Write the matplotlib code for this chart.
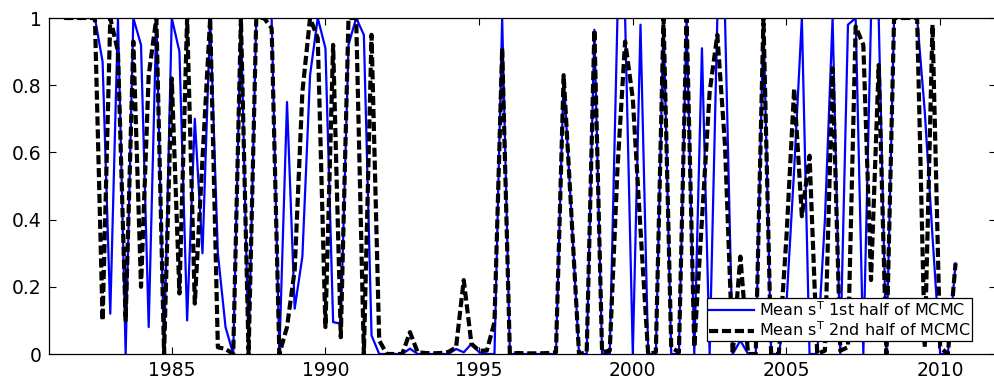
import matplotlib
matplotlib.use("Agg")
import matplotlib.pyplot as plt
import numpy as np

plt.rcParams["font.family"] = ["DejaVu Sans"]
plt.rcParams["mathtext.fontset"] = "dejavusans"

# quarterly sample, 1981Q3 .. 2010Q3
start_year = 1981.5

mean_first = [
    1.00, 1.00, 1.00, 1.00, 1.00, 0.87, 0.12, 1.00, 0.00, 1.00,   # 1981.5 -
    0.92, 0.08, 1.00, 0.00, 1.00, 0.90, 0.10, 0.70, 0.30, 1.00,   # 1984.0 -
    0.30, 0.08, 0.00, 1.00, 0.00, 1.00, 1.00, 1.00, 0.00, 0.75,   # 1986.5 -
    0.135, 0.29, 0.83, 1.00, 0.91, 0.095, 0.09, 0.92, 1.00, 0.95, # 1989.0 -
    0.055, 0.00, 0.00, 0.00, 0.00, 0.016, 0.00, 0.00, 0.00, 0.00, # 1991.5 -
    0.00, 0.015, 0.005, 0.03, 0.005, 0.00, 0.00, 1.00, 0.00, 0.00, # 1994.0 -
    0.00, 0.00, 0.00, 0.00, 0.00, 0.83, 0.42, 0.00, 0.00, 0.965,  # 1996.5 -
    0.00, 0.00, 1.00, 1.00, 0.00, 0.98, 0.00, 0.00, 1.00, 0.00,   # 1999.0 -
    0.00, 1.00, 0.00, 0.91, 0.00, 1.00, 1.00, 0.00, 0.04, 0.00,   # 2001.5 -
    0.00, 1.00, 0.00, 0.00, 0.15, 0.55, 1.00, 0.00, 0.00, 0.40,   # 2004.0 -
    1.00, 0.00, 0.98, 1.00, 0.00, 1.00, 1.00, 0.00, 1.00, 1.00,   # 2006.5 -
    1.00, 1.00, 0.72, 0.35, 0.00, 0.00, 0.27,                     # 2009.0 -
]

mean_second = [
    1.00, 1.00, 1.00, 1.00, 1.00, 0.10, 1.00, 0.90, 0.10, 0.93,
    0.20, 0.83, 1.00, 0.00, 0.82, 0.18, 1.00, 0.15, 0.58, 1.00,
    0.02, 0.015, 0.00, 1.00, 0.00, 1.00, 1.00, 0.97, 0.00, 0.08,
    0.25, 0.78, 1.00, 0.94, 0.08, 0.92, 0.05, 1.00, 1.00, 0.00,
    0.95, 0.04, 0.00, 0.00, 0.00, 0.065, 0.005, 0.003, 0.002, 0.003,
    0.006, 0.02, 0.22, 0.03, 0.01, 0.01, 0.095, 0.91, 0.00, 0.003,
    0.002, 0.002, 0.002, 0.003, 0.005, 0.83, 0.42, 0.00, 0.005, 0.965,
    0.005, 0.01, 0.55, 0.93, 0.76, 0.37, 0.00, 0.005, 1.00, 0.02,
    0.005, 1.00, 0.02, 0.40, 0.78, 0.95, 0.62, 0.00, 0.29, 0.00,
    0.00, 1.00, 0.00, 0.00, 0.35, 0.79, 0.41, 0.59, 0.00, 0.01,
    0.85, 0.01, 0.02, 0.975, 0.92, 0.22, 0.86, 0.00, 1.00, 1.00,
    1.00, 1.00, 0.02, 0.98, 0.02, 0.00, 0.27,
]

dates = start_year + 0.25 * np.arange(len(mean_first))

x_ticks = [1985, 1990, 1995, 2000, 2005, 2010]
y_ticks = [0, 0.2, 0.4, 0.6, 0.8, 1]
y_labels = ["0", "0.2", "0.4", "0.6", "0.8", "1"]

W, H = 994, 379
fig = plt.figure(figsize=(W / 100, H / 100), dpi=100)
# right spine sits just outside the picture, as in the original
ax = fig.add_axes([48.8 / W, 25 / H, (995.5 - 48.8) / W, 336 / H])

ax.plot(dates, mean_first, color="#0000ff", lw=1.6,
        label="Mean s$^\\mathrm{T}$ 1st half of MCMC")
ax.plot(dates, mean_second, color="black", lw=3.0, dashes=[2.2, 0.9],
        label="Mean s$^\\mathrm{T}$ 2nd half of MCMC")

ax.set_xlim(1981, 2011.8)
ax.set_ylim(0, 1)
ax.set_xticks(x_ticks)
ax.set_yticks(y_ticks)
ax.set_yticklabels(y_labels)
ax.tick_params(direction="in", length=5, width=0.8, labelsize=13.5,
               top=True, right=True, pad=5)
for s in ax.spines.values():
    s.set_linewidth(0.9)

# legend box: x 685..972 px, bottom at 341 px
leg = ax.legend(loc="lower right",
                bbox_to_anchor=((972 - 48.8) / 946.7, (354 - 341) / 336),
                fontsize=11.5, frameon=True, fancybox=False,
                edgecolor="black", framealpha=1, handlelength=2.8,
                handletextpad=0.3, labelspacing=0.12, borderpad=0.1,
                borderaxespad=0)
leg.get_frame().set_linewidth(0.9)

fig.savefig("out.png", dpi=100)
